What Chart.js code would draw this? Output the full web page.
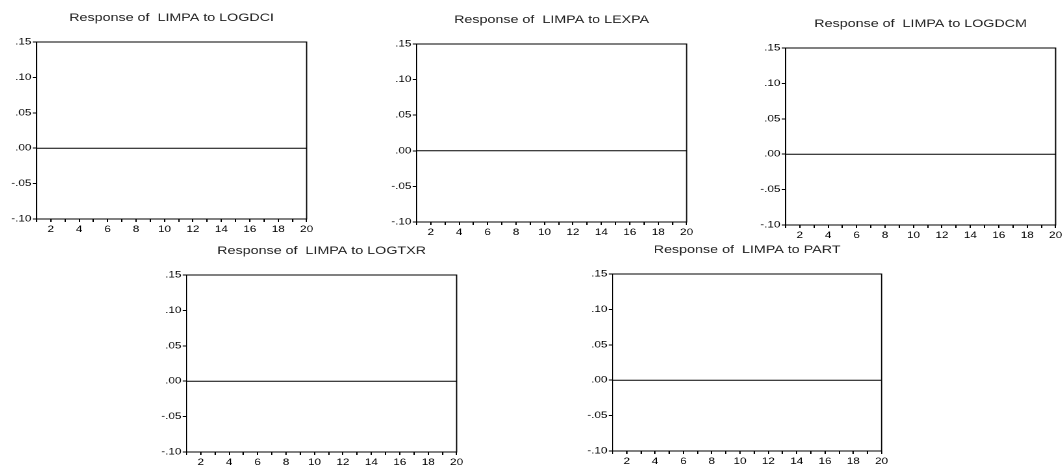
<!DOCTYPE html>
<html>
<head>
<meta charset="utf-8">
<script src="https://cdn.jsdelivr.net/npm/chart.js@4/dist/chart.umd.min.js"></script>
<style>
  html, body { margin:0; padding:0; background:#fff; overflow:hidden; width:1063px; height:469px; }
  canvas { position:absolute; transform-origin:0 0; }
</style>
</head>
<body>
<script>
// ---- data ----
const periods = [1,2,3,4,5,6,7,8,9,10,11,12,13,14,15,16,17,18,19,20];
const titles = [
  'Response of  LIMPA to LOGDCI',
  'Response of  LIMPA to LEXPA',
  'Response of  LIMPA to LOGDCM',
  'Response of  LIMPA to LOGTXR',
  'Response of  LIMPA to PART'
];
const respLOGDCI = [0,0,0,0,0,0,0,0,0,0,0,0,0,0,0,0,0,0,0,0];
const respLEXPA  = [0,0,0,0,0,0,0,0,0,0,0,0,0,0,0,0,0,0,0,0];
const respLOGDCM = [0,0,0,0,0,0,0,0,0,0,0,0,0,0,0,0,0,0,0,0];
const respLOGTXR = [0,0,0,0,0,0,0,0,0,0,0,0,0,0,0,0,0,0,0,0];
const respPART   = [0,0,0,0,0,0,0,0,0,0,0,0,0,0,0,0,0,0,0,0];
const yTickValues = [-0.10, -0.05, 0.00, 0.05, 0.10, 0.15];
const series = [respLOGDCI, respLEXPA, respLOGDCM, respLOGTXR, respPART];

// ---- layout (screen px: plot-area left, right, top, bottom) ----
const boxes = [
  [37, 307, 42, 219],
  [417, 687, 44, 222],
  [786, 1056, 48, 225],
  [187, 457, 275, 452],
  [613, 882, 274, 451]
];
const S = 1.3;        // horizontal stretch of the original picture
const YW = 32;        // y-axis width (unscaled)
const XH = 20;        // x-axis height
const TOP = 32;       // title area height
const FONT = '"Liberation Sans", Arial, sans-serif';

const framePlugin = {
  id: 'frame',
  afterDraw(chart) {
    const a = chart.chartArea, ctx = chart.ctx;
    ctx.save();
    ctx.strokeStyle = '#000';
    ctx.lineWidth = 1;
    ctx.strokeRect(a.left, a.top, a.right - a.left, a.bottom - a.top);
    ctx.restore();
  }
};

function fmt(v) {
  const s = Math.abs(v).toFixed(2).replace(/^0/, '');
  return (v < -1e-9 ? '-' : '') + s;
}

boxes.forEach((b, i) => {
  const [L, R, T, B] = b;
  const plotWu = (R - L) / S;
  const cw = Math.ceil(YW + plotWu + 10);
  const rp = cw - YW - plotWu;
  const ch = TOP + (B - T) + XH;
  const c = document.createElement('canvas');
  c.width = cw; c.height = ch;
  c.style.left = (L - YW * S) + 'px';
  c.style.top = (T - TOP) + 'px';
  c.style.transform = 'scaleX(' + S + ')';
  document.body.appendChild(c);

  new Chart(c, {
    type: 'line',
    data: {
      labels: periods,
      datasets: [{
        data: series[i],
        borderColor: '#000',
        borderWidth: 1,
        pointRadius: 0,
        fill: false,
        tension: 0
      }]
    },
    options: {
      responsive: false,
      animation: false,
      devicePixelRatio: 2,
      layout: { padding: { top: 0, right: rp, bottom: 0, left: 0 } },
      plugins: {
        legend: { display: false },
        tooltip: { enabled: false },
        title: {
          display: true,
          text: titles[i],
          fullSize: false,
          color: '#222',
          font: { family: FONT, size: 11, weight: 'normal' },
          padding: { top: 1.4, bottom: 17.4 }
        }
      },
      scales: {
        x: {
          type: 'category',
          offset: false,
          afterFit(s) { s.height = XH; },
          grid: { display: true, drawOnChartArea: false, drawTicks: true, tickLength: 3, color: '#000', lineWidth: 1 },
          border: { display: true, color: '#000', width: 1 },
          ticks: {
            autoSkip: false, maxRotation: 0, padding: 2,
            color: '#000', font: { family: FONT, size: 9 },
            callback: (v, idx) => (periods[idx] % 2 === 0 ? String(periods[idx]) : '')
          }
        },
        y: {
          min: yTickValues[0],
          max: yTickValues[yTickValues.length - 1],
          afterFit(s) { s.width = YW; },
          afterBuildTicks(s) { s.ticks = yTickValues.map(v => ({ value: v })); },
          grid: { display: true, drawOnChartArea: false, drawTicks: true, tickLength: 3, color: '#000', lineWidth: 1 },
          border: { display: true, color: '#000', width: 1 },
          ticks: {
            padding: 1, color: '#000', font: { family: FONT, size: 9 },
            callback: (v) => fmt(v)
          }
        }
      }
    },
    plugins: [framePlugin]
  });
});
</script>
</body>
</html>
